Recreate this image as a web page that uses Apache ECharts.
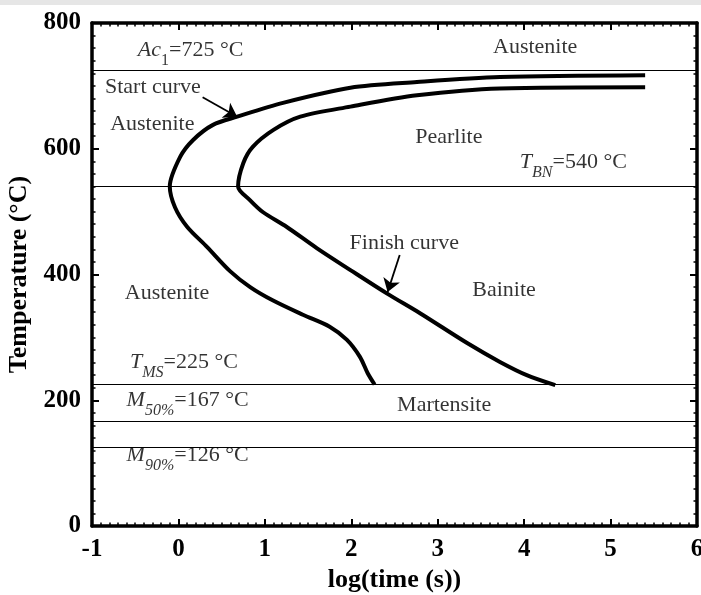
<!DOCTYPE html>
<html>
<head>
<meta charset="utf-8">
<script src="https://cdn.jsdelivr.net/npm/echarts@6/dist/echarts.min.js"></script>
<style>
  html, body { margin: 0; padding: 0; background: #fff; }
  #main { width: 701px; height: 595px; }
</style>
</head>
<body>
<div id="main"></div>
<script>
// axis ticks
var xTicks = [-1, 0, 1, 2, 3, 4, 5, 6]
var yTicks = [0, 200, 400, 600, 800]

// characteristic temperatures (°C)
var levels = [725, 540, 225, 167, 126]

// start curve [log(t), T], traced from upper end round the nose down to Ms
var startCurve = [
    [5.40, 717], [3.72, 714], [2.76, 706], [1.99, 697], [1.21, 673], [0.68, 651],
    [0.40, 638], [0.17, 614], [0.02, 587], [-0.10, 540], [-0.04, 507], [0.10, 476],
    [0.33, 444], [0.60, 405], [0.83, 380], [1.09, 359], [1.44, 336], [1.75, 317],
    [1.95, 296], [2.10, 269], [2.19, 243], [2.27, 225]
]

// finish curve
var finishCurve = [
    [5.40, 698], [3.72, 696], [2.76, 685], [1.99, 667], [1.41, 651], [1.10, 630],
    [0.86, 603], [0.75, 577], [0.69, 540], [0.83, 518], [0.98, 499], [1.25, 476],
    [1.60, 442], [1.99, 407], [2.41, 370], [2.80, 338], [3.34, 291], [3.72, 261],
    [4.03, 240], [4.36, 224]
]

// annotation arrows: [from, to]
var arrows = [
    [[0.28, 682], [0.68, 651]],
    [[2.56, 431], [2.42, 372]]
]

// text labels: [x, y, rich text]
var notes = [
    [-0.47, 757, '{i|Ac}{sub|1}{n|=725 °C}'],
    [3.64, 762, '{n|Austenite}'],
    [-0.85, 698, '{n|Start curve}'],
    [-0.79, 639, '{n|Austenite}'],
    [2.74, 619, '{n|Pearlite}'],
    [3.95, 579, '{i|T}{isub|BN}{n|=540 °C}'],
    [1.98, 450, '{n|Finish curve}'],
    [3.40, 375, '{n|Bainite}'],
    [-0.62, 370, '{n|Austenite}'],
    [-0.56, 261, '{i|T}{isub|MS}{n|=225 °C}'],
    [-0.60, 200, '{i|M}{isub|50%}{n|=167 °C}'],
    [-0.60, 113, '{i|M}{isub|90%}{n|=126 °C}'],
    [2.53, 192, '{n|Martensite}']
]

var serif = 'Liberation Serif'
var ink = '#000'

var myChart = echarts.init(document.getElementById('main'))

function frameAxis(pos, labels) {
    return {
        type: 'value',
        position: pos,
        axisLine: { show: true, onZero: false, lineStyle: { color: ink, width: 3.5 } },
        axisTick: { show: true, inside: true, length: 7, lineStyle: { color: ink, width: 2 } },
        minorTick: { show: true, splitNumber: 10, length: 3.5, lineStyle: { color: ink, width: 1.5 } },
        splitLine: { show: false },
        axisLabel: labels ? {
            fontFamily: serif, fontWeight: 'bold', fontSize: 25, color: ink, margin: 11
        } : { show: false }
    }
}

var xBottom = Object.assign(frameAxis('bottom', true), {
    min: xTicks[0], max: xTicks[xTicks.length - 1], interval: 1,
    name: 'log(time (s))', nameLocation: 'middle', nameGap: 33,
    nameTextStyle: { fontFamily: serif, fontWeight: 'bold', fontSize: 26, color: ink }
})
var xTop = Object.assign(frameAxis('top', false), {
    min: xTicks[0], max: xTicks[xTicks.length - 1], interval: 1
})
var yLeft = Object.assign(frameAxis('left', true), {
    min: yTicks[0], max: yTicks[yTicks.length - 1], interval: 200,
    name: 'Temperature (°C)', nameLocation: 'middle', nameGap: 50,
    nameTextStyle: { fontFamily: serif, fontWeight: 'bold', fontSize: 26, color: ink }
})
var yRight = Object.assign(frameAxis('right', false), {
    min: yTicks[0], max: yTicks[yTicks.length - 1], interval: 200
})

var richStyles = {
    n: { fontFamily: serif, fontSize: 22, color: ink },
    i: { fontFamily: serif, fontSize: 22, fontStyle: 'italic', color: ink },
    sub: { fontFamily: serif, fontSize: 16, color: ink, padding: [22, 0, 0, 0] },
    isub: { fontFamily: serif, fontSize: 16, fontStyle: 'italic', color: ink, padding: [22, 0, 0, 0] }
}

var option = {
    animation: false,
    backgroundColor: '#fff',
    graphic: [{
        type: 'rect', left: 0, top: 0, shape: { width: 701, height: 5 },
        style: { fill: '#e6e6e6' }, silent: true
    }],
    grid: { left: 92, right: 4, top: 23, bottom: 69, containLabel: false, outerBoundsMode: 'none' },
    xAxis: [xBottom, xTop],
    yAxis: [yLeft, yRight],
    series: [
        {
            type: 'line', data: startCurve, smooth: 0.3, symbol: 'none',
            lineStyle: { color: ink, width: 4 }, silent: true
        },
        {
            type: 'line', data: finishCurve, smooth: 0.3, symbol: 'none',
            lineStyle: { color: ink, width: 4 }, silent: true
        },
        {
            type: 'line', data: [], silent: true,
            markLine: {
                silent: true, symbol: 'none', label: { show: false },
                lineStyle: { color: ink, width: 1.2, type: 'solid' },
                data: levels.map(function (v) { return { yAxis: v } })
            }
        },
        {
            type: 'line', data: [], silent: true,
            markLine: {
                silent: true, symbol: ['none', 'arrow'], symbolSize: 13,
                label: { show: false },
                lineStyle: { color: ink, width: 1.8, type: 'solid' },
                data: arrows.map(function (a) { return [{ coord: a[0] }, { coord: a[1] }] })
            }
        },
        {
            type: 'scatter', symbolSize: 0, silent: true,
            data: notes.map(function (d) { return { value: [d[0], d[1]], txt: d[2] } }),
            label: {
                show: true, position: [0, 0], align: 'left', verticalAlign: 'middle',
                formatter: function (p) { return p.data.txt },
                rich: richStyles
            }
        }
    ]
}

myChart.setOption(option)
</script>
</body>
</html>
